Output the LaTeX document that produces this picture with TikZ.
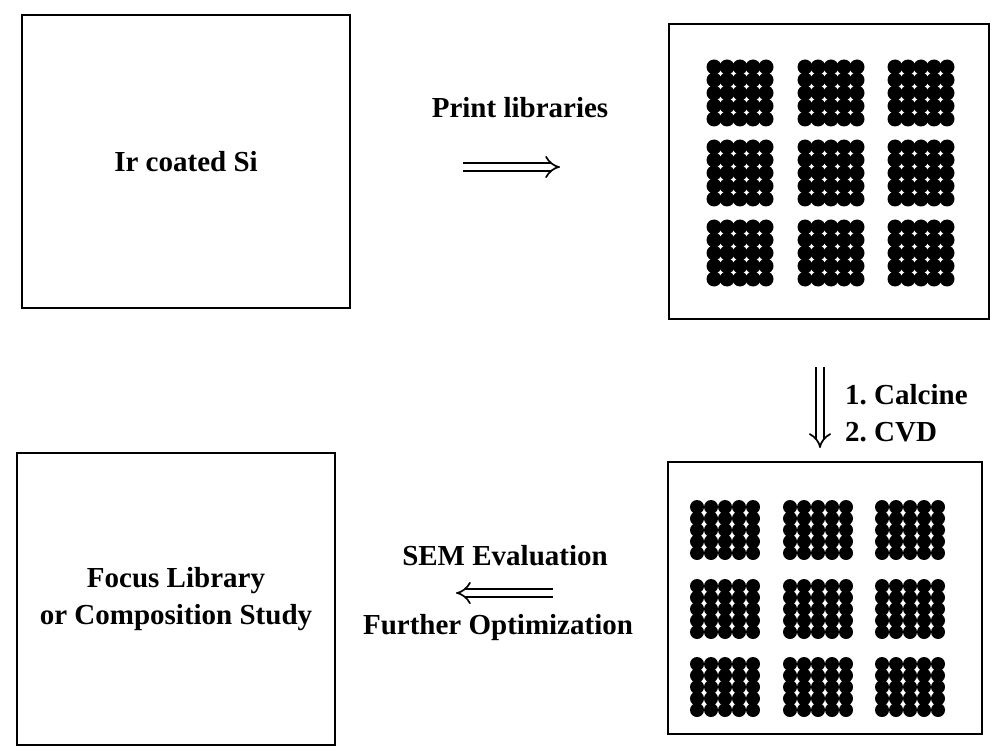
\documentclass[tikz,border=0pt]{standalone}
\usepackage{fontspec}
\setmainfont{Liberation Serif}
\usepackage{tikz}
\usetikzlibrary{arrows.meta,positioning}
\frenchspacing

\begin{document}
\begin{tikzpicture}[x=1pt,y=-1pt,
    box/.style={draw, line width=2.6pt, inner sep=0pt, align=center},
    lbl/.style={font=\fontsize{29}{37}\selectfont\bfseries, inner sep=0pt, align=center},
    hollow/.style={double, double distance=6pt, line width=1.7pt, -{Implies}}]
   \useasboundingbox (0,0) rectangle (992,751);
   \node[box, lbl, minimum width=328pt, minimum height=293pt] (ir)     at (186,161.5) {Ir coated Si};
   \node[box, minimum width=320pt, minimum height=295pt]      (printed) at (829,171.5) {};
   \node[box, minimum width=314pt, minimum height=272pt]      (fired)   at (825,598) {};
   \node[box, lbl, minimum width=318pt, minimum height=292pt] (focus)  at (176,599) {Focus Library\\or Composition Study};

   % printed spots
   \foreach \gx in {740,831,921}
     \foreach \gy in {93,173,253}
       \foreach \i in {-2,...,2}
         \foreach \j in {-2,...,2}
           \fill (\gx+\i*13,\gy+\j*13) circle (7.5);

   % spots after CVD
   \foreach \gx in {725,818,910}
     \foreach \gy in {530,609,687}
       \foreach \i in {-2,...,2}
         \foreach \j in {-2,...,2}
           \fill (\gx+\i*14,\gy+\j*11.5) circle (7);

   \coordinate (p1) at (463,167);
   \coordinate (p2) at (560,167);
   \coordinate (c1) at (820,367);
   \coordinate (c2) at (820,448);
   \coordinate (s1) at (553,593);
   \coordinate (s2) at (456,593);

   \node[lbl] (printlbl) at (520,108) {Print libraries};
   \node[lbl, anchor=west] (calcine) at (845,395) {1. Calcine};
   \node[lbl, anchor=west] (cvd)     at (845,432) {2. CVD};
   \node[lbl] (sem)     at (505,556) {SEM Evaluation};
   \node[lbl] (further) at (498,628) {Further Optimization};

   \draw[hollow] (p1) -- (p2);
   \draw[hollow] (c1) -- (c2);
   \draw[hollow] (s1) -- (s2);
\end{tikzpicture}
\end{document}
